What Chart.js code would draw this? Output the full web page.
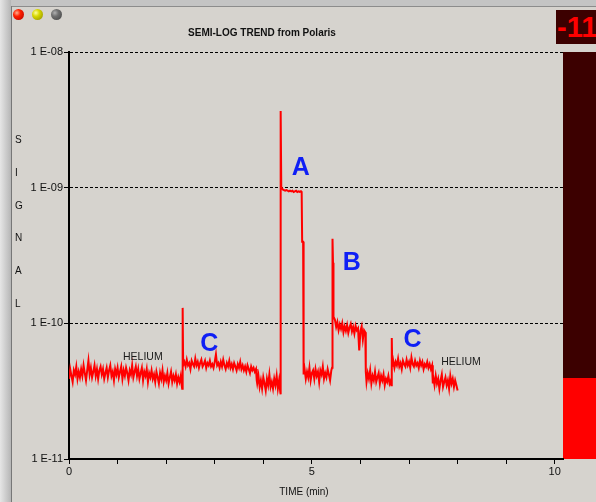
<!DOCTYPE html>
<html>
<head>
<meta charset="utf-8">
<script src="https://cdn.jsdelivr.net/npm/chart.js@4.4.1/dist/chart.umd.min.js"></script>
<style>
html,body{margin:0;padding:0;}
body{width:596px;height:502px;overflow:hidden;background:#d6d3ce;position:relative;font-family:"Liberation Sans",Arial,sans-serif;color:#111;}
.abs{position:absolute;}
#frameTop{left:0;top:0;width:596px;height:6px;background:#c4c4c4;}
#frameLine{left:11px;top:6px;width:585px;height:1px;background:#8c8c8c;}
#frameLeft{left:0;top:0;width:11px;height:502px;background:linear-gradient(to right,#e6e6e6,#b6b6b6);}
#frameLeftLine{left:11px;top:6px;width:1px;height:496px;background:#777;}
.led{width:11px;height:11px;border-radius:50%;top:9px;}
#ledR{left:13px;background:radial-gradient(circle at 35% 35%,#ffb090 0,#ff2000 35%,#b00000 100%);}
#ledY{left:32px;background:radial-gradient(circle at 35% 35%,#ffffa0 0,#d8d800 35%,#8a8a00 100%);}
#ledG{left:51px;background:radial-gradient(circle at 35% 35%,#b0b0b0 0,#707070 35%,#404040 100%);}
#title{left:0;top:25px;width:524px;text-align:center;font-weight:bold;font-size:11.5px;line-height:15px;transform:scaleX(0.87);transform-origin:262px 50%;}
#ylabel{left:15px;top:124px;font-size:10px;line-height:32.8px;}
#xlabel{left:204px;top:486px;width:200px;text-align:center;font-size:10px;line-height:12px;}
#meterDark{left:563px;top:52px;width:33px;height:326px;background:#3c0000;}
#meterRed{left:563px;top:378px;width:33px;height:81px;background:#ff0000;}
#levBox{left:556px;top:10px;width:40px;height:34px;background:#3c0000;overflow:hidden;}
#levText{position:absolute;left:1px;top:0;line-height:34px;font-size:29px;font-weight:bold;color:#ff0000;white-space:nowrap;}
canvas{position:absolute;left:0;top:0;}
</style>
</head>
<body>
<div class="abs" id="frameTop"></div>
<div class="abs" id="frameLeft"></div>
<div class="abs" id="frameLine"></div>
<div class="abs" id="frameLeftLine"></div>
<div class="abs led" id="ledR"></div>
<div class="abs led" id="ledY"></div>
<div class="abs led" id="ledG"></div>
<div class="abs" id="meterDark"></div>
<div class="abs" id="meterRed"></div>
<div class="abs" id="levBox"><span id="levText">-11</span></div>
<canvas id="c" width="596" height="502"></canvas>
<div class="abs" id="title">SEMI-LOG TREND from Polaris</div>
<div class="abs" id="ylabel">S<br>I<br>G<br>N<br>A<br>L</div>
<div class="abs" id="xlabel">TIME (min)</div>
<script>
// ---- data: time in minutes, signal in units of 1e-11 ----
const timeMin = [
 0,0.025,0.05,0.075,0.1,0.125,0.15,0.175,0.2,0.225,
 0.25,0.275,0.3,0.325,0.35,0.375,0.4,0.425,0.45,0.475,
 0.5,0.525,0.55,0.575,0.6,0.625,0.65,0.675,0.7,0.725,
 0.75,0.775,0.8,0.825,0.85,0.875,0.9,0.925,0.95,0.975,
 1,1.025,1.05,1.075,1.1,1.125,1.15,1.175,1.2,1.225,
 1.25,1.275,1.3,1.325,1.35,1.375,1.4,1.425,1.45,1.475,
 1.5,1.525,1.55,1.575,1.6,1.625,1.65,1.675,1.7,1.725,
 1.75,1.775,1.8,1.825,1.85,1.875,1.9,1.925,1.95,1.975,
 2,2.025,2.05,2.075,2.1,2.125,2.15,2.175,2.2,2.225,
 2.25,2.275,2.3,2.32,2.33,2.34,2.35,
 2.375,2.4,2.425,2.45,2.475,2.5,2.525,2.55,2.575,2.6,
 2.625,2.65,2.675,2.7,2.725,2.75,2.775,2.8,2.825,2.85,
 2.875,2.9,2.925,2.95,2.975,3,3.025,3.05,3.075,3.1,
 3.125,3.15,3.175,3.2,3.225,3.25,3.275,3.3,3.325,3.35,
 3.375,3.4,3.425,3.45,3.475,3.5,3.525,3.55,3.575,3.6,
 3.625,3.65,3.675,3.7,3.725,3.75,3.775,3.8,3.825,3.85,
 3.865,
 3.875,3.9,3.925,3.95,3.975,4,4.025,4.05,4.075,4.1,
 4.125,4.15,4.175,4.2,4.225,4.25,4.275,4.3,4.325,4.35,
 4.355,4.36,4.37,
 4.4,4.425,4.45,4.475,4.5,4.525,4.55,4.575,4.6,4.625,4.65,4.675,4.7,4.725,4.75,4.775,
 4.79,4.8,4.82,4.83,
 4.85,4.875,4.9,4.925,4.95,4.975,5,5.025,5.05,5.075,
 5.1,5.125,5.15,5.175,5.2,5.225,5.25,5.275,5.3,5.325,
 5.35,5.375,5.4,
 5.415,5.425,5.435,5.445,
 5.475,5.5,5.525,5.55,5.575,5.6,5.625,5.65,5.675,5.7,
 5.725,5.75,5.775,5.8,5.825,5.85,5.875,5.9,5.925,5.95,
 5.975,6,6.025,6.05,6.075,6.1,
 6.11,
 6.125,6.15,6.175,6.2,6.225,6.25,6.275,6.3,6.325,6.35,
 6.375,6.4,6.425,6.45,6.475,6.5,6.525,6.55,6.575,6.6,
 6.625,
 6.635,6.645,6.655,
 6.675,6.7,6.725,6.75,6.775,6.8,6.825,6.85,6.875,6.9,
 6.925,6.95,6.975,7,7.025,7.05,7.075,7.1,7.125,7.15,
 7.175,7.2,7.225,7.25,7.275,7.3,7.325,7.35,7.375,7.4,
 7.425,7.45,7.475,
 7.49,
 7.5,7.525,7.55,7.575,7.6,7.625,7.65,7.675,7.7,7.725,
 7.75,7.775,7.8,7.825,7.85,7.875,7.9,7.925,7.95,7.975,
 8
];
const signalE11 = [
 3.9,4.6,4.1,3.7,4.5,4.2,4.8,3.9,4.4,4.0,
 4.6,4.1,4.9,4.3,3.8,4.5,5.3,4.2,4.7,4.0,
 4.4,4.9,4.1,4.6,3.9,4.5,4.8,4.2,4.6,3.9,
 4.3,4.7,4.0,4.5,4.9,4.1,4.4,3.8,4.6,4.2,
 4.7,4.0,4.4,4.8,3.9,4.5,4.1,4.7,4.3,3.8,
 4.5,4.2,4.9,4.0,4.4,4.8,4.1,4.6,3.9,4.3,
 4.7,3.8,4.4,4.1,4.6,3.7,4.3,4.0,4.5,3.9,
 4.2,3.7,4.4,4.0,3.6,4.3,3.9,4.5,3.7,4.1,
 3.8,4.3,3.6,4.0,4.4,3.7,4.1,3.8,4.2,3.6,
 4.0,3.7,4.1,3.5,3.3,13.0,4.9,
 5.2,4.8,5.4,4.9,5.1,4.6,5.3,5.0,4.8,5.5,
 4.9,5.2,4.7,5.1,5.4,4.8,5.0,5.3,4.7,5.1,
 4.9,5.3,4.8,5.0,4.7,5.2,5.9,4.9,5.1,4.7,
 5.2,4.8,5.4,4.9,4.6,5.1,4.8,5.3,4.7,5.0,
 4.6,5.1,4.8,4.5,5.0,4.7,5.2,4.6,4.9,4.5,
 4.8,4.4,4.9,4.6,4.3,4.8,4.5,4.7,4.4,4.6,
 3.8,
 3.6,4.1,3.4,3.8,3.3,4.0,3.6,3.2,3.9,3.5,
 4.2,3.4,3.7,3.3,3.9,3.5,4.1,3.3,3.8,3.1,
 3.0,367,101,
 97,96,95,96,95,94,95,94,95,93,94,95,93,94,93,94,
 93,40,40,4.2,
 4.6,3.9,4.4,4.0,4.7,3.8,4.3,4.5,3.9,4.6,
 4.1,4.4,3.7,4.5,4.2,4.8,3.9,4.3,4.0,4.6,
 4.2,3.8,4.5,
 4.7,42,28,11.2,
 10.6,9.4,10.2,8.9,9.8,9.1,10.0,8.6,9.5,8.8,
 9.7,8.5,9.3,9.9,8.7,9.4,8.4,9.6,8.9,9.2,
 6.3,8.8,9.5,7.6,8.9,8.6,
 4.4,
 3.7,4.3,3.9,4.5,3.6,4.1,3.8,4.4,3.7,4.0,
 4.3,3.6,4.1,3.8,4.2,3.5,3.9,3.7,4.1,3.6,
 3.8,
 3.5,7.8,4.8,
 5.3,4.7,5.2,4.9,5.5,4.8,5.1,4.6,5.3,5.0,
 4.8,5.4,4.9,5.2,4.7,5.6,5.0,4.8,5.3,4.9,
 5.1,4.7,5.3,4.9,5.2,4.6,5.0,4.8,5.2,4.7,
 5.0,4.6,4.9,
 3.6,
 4.0,3.5,4.1,3.6,3.9,3.3,3.8,4.2,3.4,3.7,
 4.0,3.5,3.8,3.3,4.1,3.6,3.9,3.4,3.8,3.5,
 3.2
];
const yTickValues = [1e-11, 1e-10, 1e-9, 1e-8];
const yTickLabels = ['1 E-11', '1 E-10', '1 E-09', '1 E-08'];
const xTickValues = [0,1,2,3,4,5,6,7,8,9,10];
const xTickLabels = ['0','','','','','5','','','','','10'];
const noteLabels = ['A', 'B', 'C', 'C', 'HELIUM', 'HELIUM'];
const noteTimes  = [4.77, 5.82, 2.89, 7.07, 1.52, 8.07];
const noteValues = [1.39e-9, 2.78e-10, 7.04e-11, 7.54e-11, 5.65e-11, 5.14e-11];
const noteIsPeak = [true, true, true, true, false, false];

const points = timeMin.map((t, i) => ({x: t, y: signalE11[i] * 1e-11}));

const notesPlugin = {
  id: 'notes',
  afterDatasetsDraw(chart) {
    const {ctx, scales: {x, y}} = chart;
    ctx.save();
    ctx.textAlign = 'center';
    ctx.textBaseline = 'middle';
    noteLabels.forEach((lab, i) => {
      if (noteIsPeak[i]) {
        ctx.font = 'bold 25px "Liberation Sans", Arial, sans-serif';
        ctx.fillStyle = '#0f1ff5';
      } else {
        ctx.font = '10.5px "Liberation Sans", Arial, sans-serif';
        ctx.fillStyle = '#1a1a1a';
      }
      ctx.fillText(lab, x.getPixelForValue(noteTimes[i]), y.getPixelForValue(noteValues[i]));
    });
    ctx.restore();
  }
};

new Chart(document.getElementById('c'), {
  type: 'line',
  data: {
    datasets: [{
      data: points,
      borderColor: '#ff0000',
      borderWidth: 2,
      pointRadius: 0,
      tension: 0,
      fill: false
    }]
  },
  options: {
    responsive: false,
    animation: false,
    layout: {padding: {left: 0, right: 33, top: 52, bottom: 0}},
    plugins: {legend: {display: false}, tooltip: {enabled: false}, title: {display: false}},
    scales: {
      x: {
        type: 'linear',
        min: 0,
        max: 10.17,
        afterBuildTicks: s => { s.ticks = xTickValues.map(v => ({value: v})); },
        afterFit: s => { s.height = 43; },
        ticks: {
          autoSkip: false, maxRotation: 0, padding: 1,
          color: '#111',
          font: {family: '"Liberation Sans", Arial, sans-serif', size: 11},
          callback: (v, i) => xTickLabels[i]
        },
        grid: {drawOnChartArea: false, drawTicks: true, tickLength: 5, tickColor: '#000', color: '#000'},
        border: {display: true, color: '#000', width: 2}
      },
      y: {
        type: 'logarithmic',
        min: 1e-11,
        max: 1e-8,
        afterBuildTicks: s => { s.ticks = yTickValues.map(v => ({value: v})); },
        afterFit: s => { s.width = 69; },
        ticks: {
          autoSkip: false, padding: 1,
          color: '#111',
          font: {family: '"Liberation Sans", Arial, sans-serif', size: 11},
          callback: (v, i) => yTickLabels[i]
        },
        grid: {
          drawOnChartArea: true, drawTicks: true, tickLength: 5,
          tickColor: '#000', lineWidth: 1,
          color: c => (c.tick && c.tick.value > 2e-11) ? '#000' : 'rgba(0,0,0,0)'
        },
        border: {display: true, color: '#000', width: 2, dash: [3, 2]}
      }
    }
  },
  plugins: [notesPlugin]
});
</script>
</body>
</html>
